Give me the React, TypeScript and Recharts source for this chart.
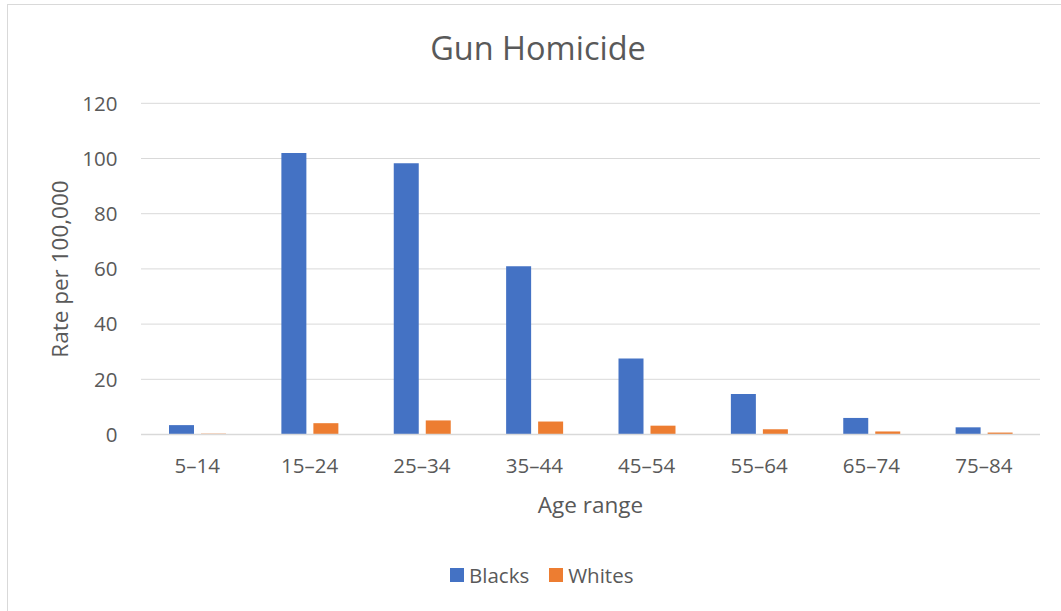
import React from "react";
import { BarChart, Bar, XAxis, YAxis, CartesianGrid, Legend, Label } from "recharts";

const categories = ["5–14", "15–24", "25–34", "35–44", "45–54", "55–64", "65–74", "75–84"];
const blacks = [3.4, 102, 98.3, 61, 27.5, 14.7, 6.0, 2.6];
const whites = [0.3, 4.1, 5.1, 4.7, 3.2, 1.9, 1.1, 0.7];
const yTicks = [0, 20, 40, 60, 80, 100, 120];

const data = categories.map((age, i) => ({ age, Blacks: blacks[i], Whites: whites[i] }));

const FONT = "'Open Sans', sans-serif";
const GREY = "#595959";

const renderLegend = (props: any) => {
  const { payload } = props;
  return (
    <div style={{ display: "flex", alignItems: "center", fontFamily: FONT, fontSize: 20.5, color: GREY }}>
      {payload.map((p: any, i: number) => (
        <div key={i} style={{ display: "flex", alignItems: "center", marginRight: 20 }}>
          <span style={{ display: "inline-block", width: 14, height: 14, background: p.color, marginRight: 5 }} />
          <span>{p.value}</span>
        </div>
      ))}
    </div>
  );
};

export default function App() {
  return (
    <div
      style={{
        position: "absolute",
        left: 7,
        top: 4,
        width: 1053,
        height: 606,
        borderTop: "1px solid #d9d9d9",
        borderLeft: "1px solid #d9d9d9",
        background: "#fff",
        overflow: "hidden",
      }}
    >
      <BarChart
        width={1053}
        height={606}
        data={data}
        margin={{ top: 98.3, right: 21, left: 0, bottom: 146.5 }}
        barSize={25}
        barGap={7}
      >
        <text x={530} y={55} textAnchor="middle" fontFamily={FONT} fontSize={32.5} fill={GREY}>
          Gun Homicide
        </text>
        <CartesianGrid vertical={false} stroke="#d9d9d9" strokeWidth={1} />
        <XAxis
          dataKey="age"
          tickLine={false}
          axisLine={{ stroke: "#d9d9d9", strokeWidth: 1.5 }}
          tick={{ fontFamily: FONT, fontSize: 20.5, fill: GREY }}
          tickMargin={18}
          interval={0}
        >
          <Label
            content={() => (
              <text x={582.5} y={508.3} textAnchor="middle" fontFamily={FONT} fontSize={22.5} fill={GREY}>
                Age range
              </text>
            )}
          />
        </XAxis>
        <YAxis
          width={133}
          domain={[0, 120]}
          ticks={yTicks}
          tickLine={false}
          axisLine={false}
          tick={{ fontFamily: FONT, fontSize: 20.5, fill: GREY }}
          tickMargin={17.5}
        >
          <Label
            content={() => (
              <text
                x={51}
                y={264}
                transform="rotate(-90 51 264)"
                textAnchor="middle"
                dominantBaseline="central"
                fontFamily={FONT}
                fontSize={22.5}
                fill={GREY}
              >
                Rate per 100,000
              </text>
            )}
          />
        </YAxis>
        <Legend
          layout="horizontal"
          verticalAlign="middle"
          align="center"
          content={renderLegend}
          wrapperStyle={{ top: 556, left: 442, width: 260, height: 30 }}
        />
        <Bar dataKey="Blacks" fill="#4472C4" isAnimationActive={false} />
        <Bar dataKey="Whites" fill="#ED7D31" isAnimationActive={false} />
      </BarChart>
    </div>
  );
}
